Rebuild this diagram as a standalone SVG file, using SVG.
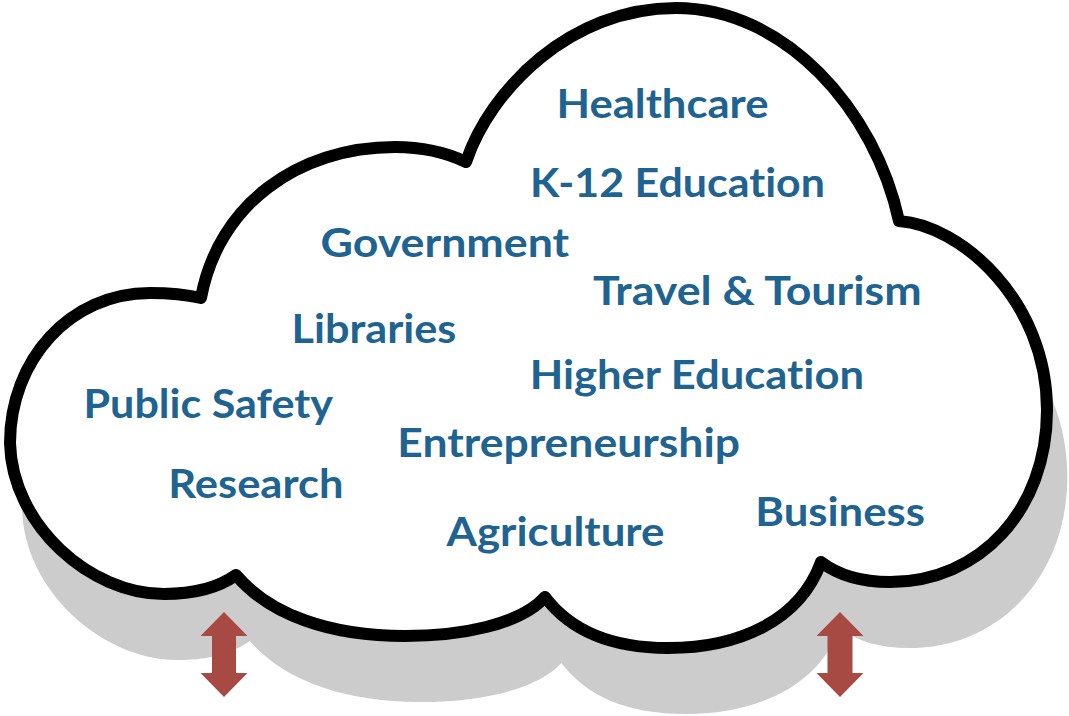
<svg xmlns="http://www.w3.org/2000/svg" width="1069" height="716" viewBox="0 0 1069 716">
  <defs>
    <path id="cloudPath" d="M201,298 C218,205 298,147 395,147 C420,147 445,152 466,162 C490,90 570,8 676,8 C785,8 875,110 899,221 C960,225 1047,300 1047,410 C1047,510 980,582 890,582 C860,582 838,575 821,562 C800,620 740,648 668,648 C610,648 570,630 545,597 C520,625 460,636 405,636 C330,636 270,615 236,575 C215,590 190,594 164,594 C90,594 12,525 10,443 C10,360 70,293 150,293 C170,293 188,295 201,298 Z"/>
  </defs>
  <style>
    .lbl { font-family: Lato, "Open Sans", "Liberation Sans", sans-serif; font-weight: bold; font-size: 41px; fill: #1F6391; font-variant-ligatures: none; font-feature-settings: "liga" 0, "dlig" 0, "clig" 0; }
    .shadow { fill: #CCCCCC; }
    .cloud { fill: #FFFFFF; stroke: #000000; stroke-width: 12; stroke-linejoin: round; }
    .arrow { fill: #A84A44; }
  </style>
  <rect width="1069" height="716" fill="#FFFFFF"/>
  <g id="cloud">
    <use href="#cloudPath" class="shadow" transform="translate(12,66) scale(1.008,1)"/>
    <use href="#cloudPath" class="cloud"/>
  </g>
  <g id="connectors">
    <polygon class="arrow" points="224,612 247.5,636 236,636 236,673 247.5,673 224,697 200.5,673 212,673 212,636 200.5,636"/>
    <polygon class="arrow" points="840,612 863.5,636 852.5,636 852.5,673 863.5,673 840,697 816.5,673 827.5,673 827.5,636 816.5,636"/>
  </g>
  <g id="healthcare"><text class="lbl" x="556.5" y="117.5" textLength="212" lengthAdjust="spacingAndGlyphs">Healthcare</text></g>
  <g id="k12"><text class="lbl" x="530" y="197.3" textLength="295" lengthAdjust="spacingAndGlyphs">K-12 Education</text></g>
  <g id="government"><text class="lbl" x="320.6" y="256.7" textLength="248.6" lengthAdjust="spacingAndGlyphs">Government</text></g>
  <g id="travel"><text class="lbl" x="593" y="305" textLength="328.6" lengthAdjust="spacingAndGlyphs">Travel &amp; Tourism</text></g>
  <g id="libraries"><text class="lbl" x="291.5" y="343.3" textLength="164.8" lengthAdjust="spacingAndGlyphs">Libraries</text></g>
  <g id="higher-ed"><text class="lbl" x="529.7" y="389.3" textLength="334.3" lengthAdjust="spacingAndGlyphs">Higher Education</text></g>
  <g id="public-safety"><text class="lbl" x="83.5" y="418.3" textLength="249.5" lengthAdjust="spacingAndGlyphs">Public Safety</text></g>
  <g id="entrepreneurship"><text class="lbl" x="397.3" y="456.7" textLength="342.7" lengthAdjust="spacingAndGlyphs">Entrepreneurship</text></g>
  <g id="research"><text class="lbl" x="168.3" y="498.3" textLength="175.2" lengthAdjust="spacingAndGlyphs">Research</text></g>
  <g id="agriculture"><text class="lbl" x="446.5" y="545.5" textLength="218" lengthAdjust="spacingAndGlyphs">Agriculture</text></g>
  <g id="business"><text class="lbl" x="755.3" y="526" textLength="169.7" lengthAdjust="spacingAndGlyphs">Business</text></g>
</svg>
